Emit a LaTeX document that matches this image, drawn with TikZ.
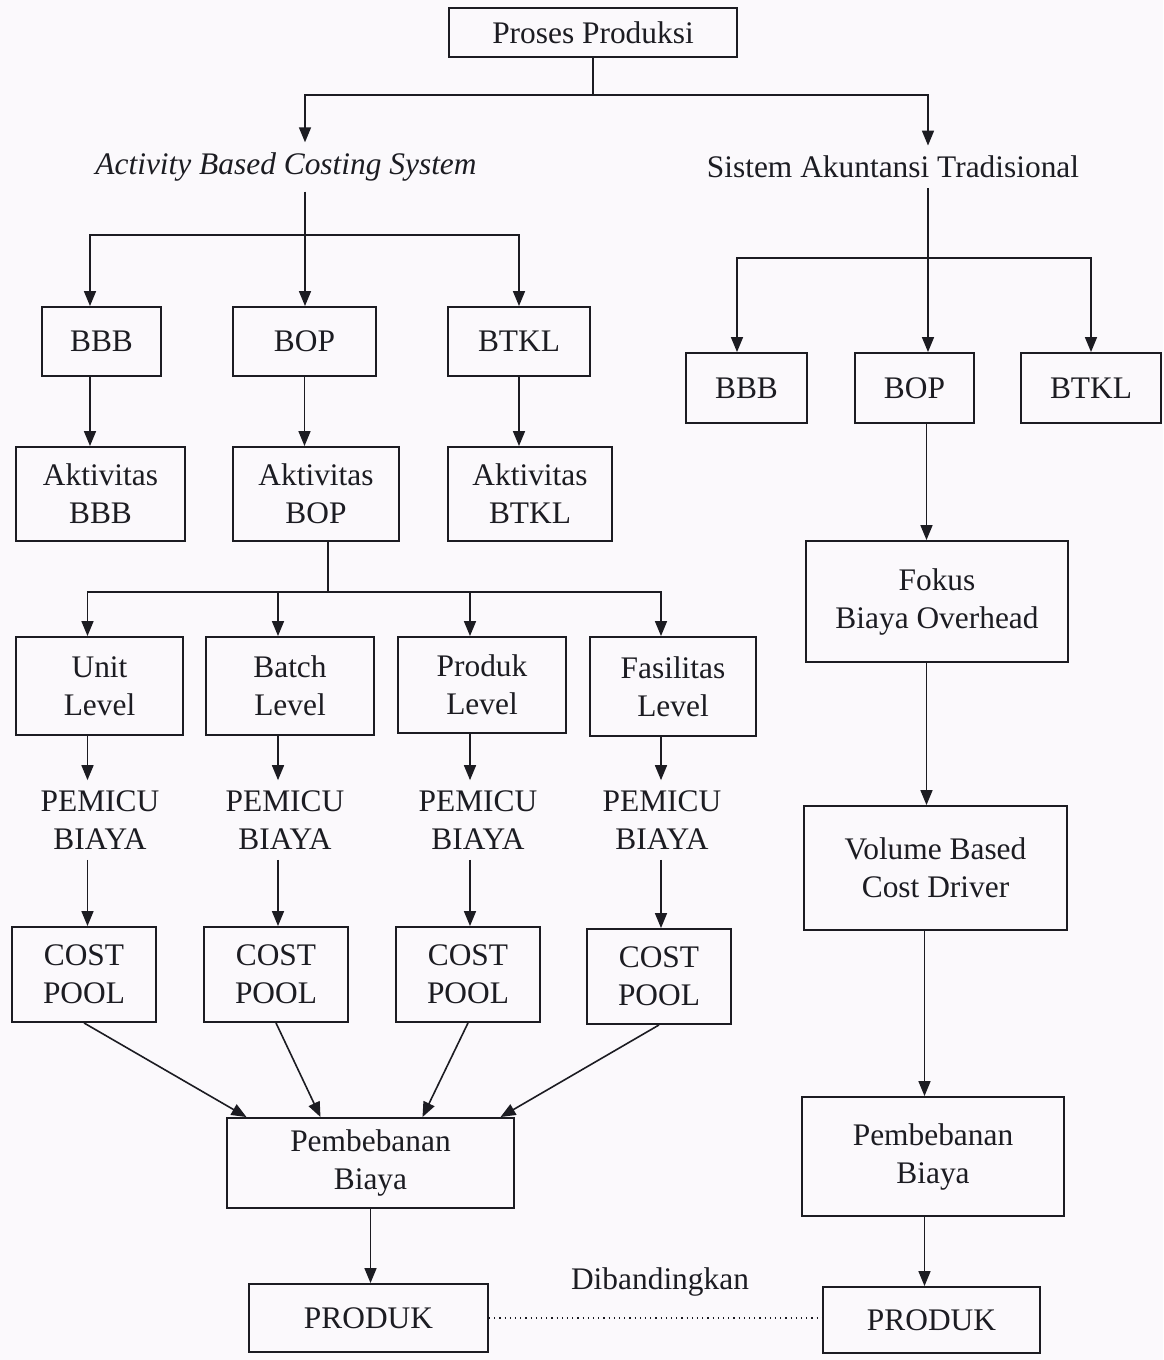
\documentclass[tikz,border=0pt]{standalone}
\usepackage{fontspec}
\setmainfont{Liberation Serif}
\usetikzlibrary{arrows.meta}

\definecolor{kertas}{RGB}{251,249,252}
\definecolor{tinta}{RGB}{28,28,34}

\tikzset{
	kotak/.style={draw=tinta, line width=0.95pt, rectangle, inner sep=0pt, align=center, text=tinta},
	teks/.style={inner sep=5pt, align=center, text=tinta},
	garis/.style={draw=tinta, line width=0.8pt},
	panah/.style={garis, -{Triangle[length=7.5pt,width=6pt]}},
}

% kotak dari pojok kiri atas (x1,y1) ke pojok kanan bawah (x2,y2), satuan piksel
\newcommand{\kotakpx}[6]{
	\pgfmathsetmacro{\KPx}{(#2+#4)/2}
	\pgfmathsetmacro{\KPy}{(#3+#5)/2}
	\pgfmathsetmacro{\KPw}{(#4-#2)/2}
	\pgfmathsetmacro{\KPh}{(#5-#3)/2}
	\node[kotak, minimum width=\KPw pt, minimum height=\KPh pt] (#1) at (\KPx,\KPy) {#6};
}

\begin{document}
\begin{tikzpicture}[x=0.5pt, y=-0.5pt, font=\fontsize{15.7}{19}\selectfont]
\fill[kertas] (0,0) rectangle (1163,1360);
\useasboundingbox (0,0) rectangle (1163,1360);

\kotakpx{proses}{449}{8}{737}{57}{Proses Produksi}
\node[teks] (abc) at (286,167) {\itshape Activity Based Costing System};
\node[teks] (sat) at (893,167) {Sistem Akuntansi Tradisional};

% sisi kiri
\kotakpx{bbbA}{42}{307}{161}{376}{BBB}
\kotakpx{bopA}{233}{307}{376}{376}{BOP}
\kotakpx{btklA}{448}{307}{590}{376}{BTKL}
\kotakpx{aktBBB}{16}{447}{185}{541}{Aktivitas\\BBB}
\kotakpx{aktBOP}{233}{447}{399}{541}{Aktivitas\\BOP}
\kotakpx{aktBTKL}{448}{447}{612}{541}{Aktivitas\\BTKL}
\kotakpx{unit}{16}{637}{183}{735}{Unit\\Level}
\kotakpx{batch}{206}{637}{374}{735}{Batch\\Level}
\kotakpx{produkLv}{398}{637}{566}{733}{Produk\\Level}
\kotakpx{fasilitas}{590}{637}{756}{736}{Fasilitas\\Level}
\node[teks] (picuA) at (100,820) {PEMICU\\BIAYA};
\node[teks] (picuB) at (285,820) {PEMICU\\BIAYA};
\node[teks] (picuC) at (478,820) {PEMICU\\BIAYA};
\node[teks] (picuD) at (662,820) {PEMICU\\BIAYA};
\kotakpx{poolA}{12}{927}{156}{1022}{COST\\POOL}
\kotakpx{poolB}{204}{927}{348}{1022}{COST\\POOL}
\kotakpx{poolC}{396}{927}{540}{1022}{COST\\POOL}
\kotakpx{poolD}{587}{929}{731}{1024}{COST\\POOL}
\kotakpx{bebanA}{227}{1118}{514}{1208}{Pembebanan\\Biaya}
\kotakpx{produkA}{249}{1284}{488}{1352}{PRODUK}

% sisi kanan
\kotakpx{bbbB}{686}{353}{807}{423}{BBB}
\kotakpx{bopB}{855}{353}{974}{423}{BOP}
\kotakpx{btklB}{1021}{353}{1161}{423}{BTKL}
\kotakpx{fokus}{806}{541}{1068}{662}{Fokus\\Biaya Overhead}
\kotakpx{volume}{804}{806}{1067}{930}{Volume Based\\Cost Driver}
\kotakpx{bebanB}{802}{1097}{1064}{1216}{Pembebanan\\Biaya}
\kotakpx{produkB}{823}{1287}{1040}{1353}{PRODUK}

\node[teks] (banding) at (660,1282) {Dibandingkan};

% cabang atas
\coordinate (cabangAtas) at (593,95);
\draw[garis] (proses.south) -- (cabangAtas);
\draw[panah] (cabangAtas) -| ([xshift=9.5pt]abc.north);
\draw[panah] (cabangAtas) -| ([xshift=17.5pt]sat.north);

% ABC
\coordinate (kolABC) at ([xshift=9.5pt]abc.south);
\coordinate (cabangABC) at (305,235);
\draw[garis] (kolABC) -- (cabangABC);
\draw[panah] (cabangABC) -| ([xshift=-5.75pt]bbbA.north);
\draw[panah] (cabangABC) -- (cabangABC |- bopA.north);
\draw[panah] (cabangABC) -| (btklA.north);
\coordinate (kolBBB) at ([xshift=-5.75pt]bbbA.south);
\draw[panah] (kolBBB) -- (kolBBB |- aktBBB.north);
\draw[panah] (bopA.south) -- (bopA.south |- aktBOP.north);
\draw[panah] (btklA.south) -- (btklA.south |- aktBTKL.north);

\coordinate (kolAkt) at ([xshift=6pt]aktBOP.south);
\coordinate (cabangLv) at (328,592);
\draw[garis] (kolAkt) -- (cabangLv);
\foreach \lv/\pc/\pl in {unit/picuA/poolA, batch/picuB/poolB, produkLv/picuC/poolC, fasilitas/picuD/poolD}{
	\coordinate (kol) at ([xshift=-6pt]\lv.south);
	\draw[panah] (cabangLv) -| ([xshift=-6pt]\lv.north);
	\draw[panah] (kol) -- (kol |- \pc.north);
	\draw[panah] (kol |- \pc.south) -- (kol |- \pl.north);
}

\draw[panah] (poolA.south) -- ([xshift=-62pt]bebanA.north);
\draw[panah] (poolB.south) -- ([xshift=-25pt]bebanA.north);
\draw[panah] (poolC.south) -- ([xshift=26pt]bebanA.north);
\draw[panah] (poolD.south) -- ([xshift=65pt]bebanA.north);
\draw[panah] (bebanA.south) -- (bebanA.south |- produkA.north);

% tradisional
\coordinate (kolSAT) at ([xshift=17.5pt]sat.south);
\coordinate (cabangSAT) at (928,258);
\draw[panah] (kolSAT) -- (kolSAT |- bopB.north);
\draw[panah] (cabangSAT) -| ([xshift=-4.75pt]bbbB.north);
\draw[panah] (cabangSAT) -| (btklB.north);
\coordinate (kolKanan) at ([xshift=6pt]bopB.south);
\draw[panah] (kolKanan) -- (kolKanan |- fokus.north);
\draw[panah] (kolKanan |- fokus.south) -- (kolKanan |- volume.north);
\coordinate (kolBawah) at ([xshift=-5.5pt]volume.south);
\draw[panah] (kolBawah) -- (kolBawah |- bebanB.north);
\draw[panah] (kolBawah |- bebanB.south) -- (kolBawah |- produkB.north);

\draw[garis, line width=0.6pt, dotted] (produkA.east) -- (produkA.east -| produkB.west);
\end{tikzpicture}
\end{document}
